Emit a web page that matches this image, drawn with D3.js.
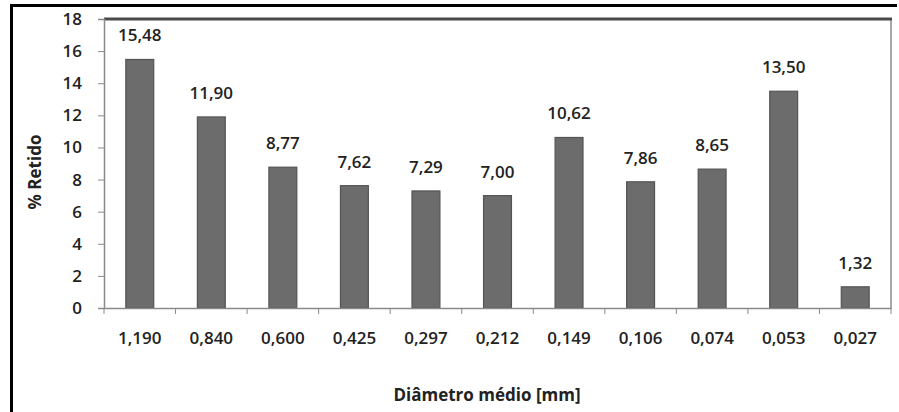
<!DOCTYPE html>
<html>
<head>
<meta charset="utf-8">
<script src="https://cdn.jsdelivr.net/npm/d3@7"></script>
<style>
  html, body { margin: 0; padding: 0; background: #fff; }
  svg { display: block; }
  text { font-family: "Open Sans", "DejaVu Sans", sans-serif; fill: #222; }
</style>
</head>
<body>
<svg id="chart" width="899" height="412"></svg>
<script>
// Mean particle diameter (mm) per sieve fraction
const diameters = ["1,190", "0,840", "0,600", "0,425", "0,297", "0,212", "0,149", "0,106", "0,074", "0,053", "0,027"];
// Mass retained on each sieve (%)
const retained = [15.48, 11.90, 8.77, 7.62, 7.29, 7.00, 10.62, 7.86, 8.65, 13.50, 1.32];
// Y axis ticks
const yTicks = [0, 2, 4, 6, 8, 10, 12, 14, 16, 18];

const svg = d3.select("#chart");
const W = 899, H = 412;
const plot = { left: 104, right: 891, top: 19, bottom: 308 };
const FS = 17;

// Outer frame (left and top edges)
svg.append("line").attr("x1", 11.5).attr("x2", 11.5).attr("y1", 4).attr("y2", H)
  .attr("stroke", "#000").attr("stroke-width", 3);
svg.append("line").attr("x1", 10).attr("x2", 897).attr("y1", 5.5).attr("y2", 5.5)
  .attr("stroke", "#000").attr("stroke-width", 3);

const x = d3.scaleBand().domain(diameters).range([plot.left, plot.right]).paddingInner(0.61).paddingOuter(0.305);
const y = d3.scaleLinear().domain([0, 18]).range([plot.bottom, plot.top]);

// Plot area border: right edge and heavy top edge
svg.append("line").attr("x1", plot.right).attr("x2", plot.right).attr("y1", plot.top).attr("y2", plot.bottom)
  .attr("stroke", "#8a8a8a").attr("stroke-width", 1.5);
svg.append("line").attr("x1", plot.left).attr("x2", plot.right + 1).attr("y1", plot.top).attr("y2", plot.top)
  .attr("stroke", "#4a4a4a").attr("stroke-width", 3);

// Bars
svg.append("g").selectAll("rect").data(retained).join("rect")
  .attr("x", (d, i) => x(diameters[i]))
  .attr("y", d => y(d))
  .attr("width", x.bandwidth())
  .attr("height", d => y(0) - y(d))
  .attr("fill", "#6c6c6c")
  .attr("stroke", "#545454")
  .attr("stroke-width", 1.2);

// Value labels
svg.append("g").selectAll("text").data(retained).join("text")
  .attr("x", (d, i) => x(diameters[i]) + x.bandwidth() / 2)
  .attr("y", d => y(d) - 18)
  .attr("text-anchor", "middle")
  .attr("font-size", FS)
  .attr("font-weight", 600)
  .text(d => d.toFixed(2).replace(".", ","));

// Y axis
const yAxis = svg.append("g").attr("transform", `translate(${plot.left},0)`)
  .call(d3.axisLeft(y).tickValues(yTicks).tickSize(6).tickPadding(16));
yAxis.select(".domain").attr("stroke", "#8a8a8a").attr("stroke-width", 1.5);
yAxis.selectAll(".tick line").attr("stroke", "#8a8a8a");
yAxis.selectAll(".tick text").attr("font-size", FS).attr("font-weight", 600)
  .attr("font-family", "\"Open Sans\", sans-serif").attr("fill", "#222");

// X axis: tick marks sit on band boundaries
const xAxis = svg.append("g").attr("transform", `translate(0,${plot.bottom})`)
  .call(d3.axisBottom(x).tickSize(0).tickPadding(24));
xAxis.select(".domain").attr("stroke", "#8a8a8a").attr("stroke-width", 1.5);
xAxis.selectAll(".tick text").attr("font-size", FS).attr("font-weight", 600)
  .attr("font-family", "\"Open Sans\", sans-serif").attr("fill", "#222");
const bounds = d3.range(diameters.length + 1).map(i => plot.left + i * (plot.right - plot.left) / diameters.length);
xAxis.append("g").selectAll("line").data(bounds).join("line")
  .attr("x1", d => d).attr("x2", d => d)
  .attr("y1", 0).attr("y2", 6)
  .attr("stroke", "#8a8a8a");

// Axis titles
svg.append("text")
  .attr("x", 487).attr("y", 401)
  .attr("text-anchor", "middle")
  .attr("font-size", 17).attr("font-weight", 700)
  .text("Diâmetro médio [mm]");
svg.append("text")
  .attr("transform", "translate(41,172) rotate(-90)")
  .attr("text-anchor", "middle")
  .attr("font-size", 17).attr("font-weight", 700)
  .text("% Retido");
</script>
</body>
</html>
